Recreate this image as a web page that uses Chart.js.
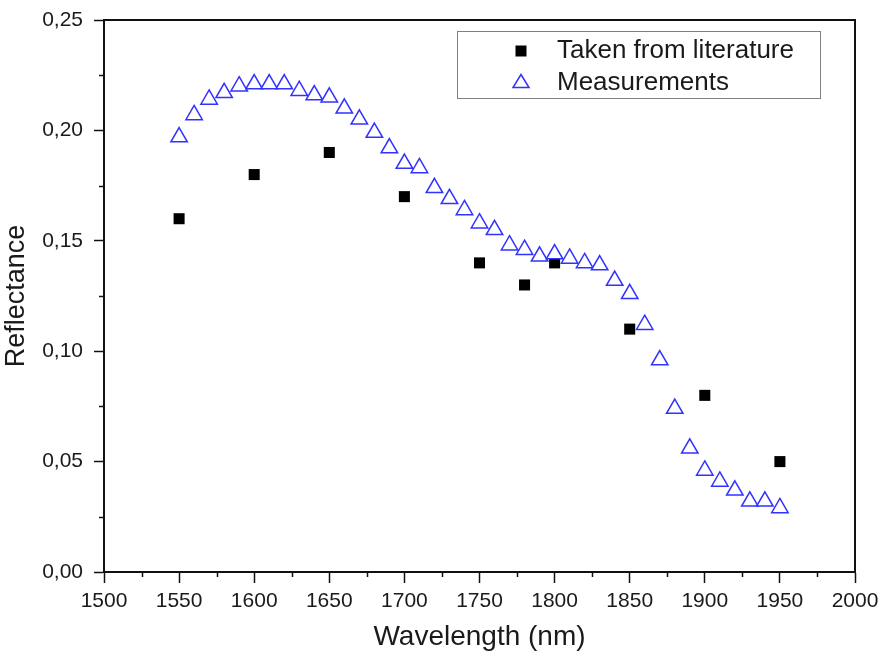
<!DOCTYPE html>
<html>
<head>
<meta charset="utf-8">
<script src="https://cdn.jsdelivr.net/npm/chart.js@4/dist/chart.umd.min.js"></script>
<style>
  html, body { margin: 0; padding: 0; background: #fff; }
  #wrap { width: 883px; height: 662px; }
</style>
</head>
<body>
<div id="wrap"><canvas id="c" width="883" height="662"></canvas></div>
<script>
// ---- data ----
const litWavelength = [1550, 1600, 1650, 1700, 1750, 1780, 1800, 1850, 1900, 1950];
const litReflectance = [0.160, 0.180, 0.190, 0.170, 0.140, 0.130, 0.140, 0.110, 0.080, 0.050];

const measWavelength = [1550, 1560, 1570, 1580, 1590, 1600, 1610, 1620, 1630, 1640,
                        1650, 1660, 1670, 1680, 1690, 1700, 1710, 1720, 1730, 1740,
                        1750, 1760, 1770, 1780, 1790, 1800, 1810, 1820, 1830, 1840,
                        1850, 1860, 1870, 1880, 1890, 1900, 1910, 1920, 1930, 1940, 1950];
const measReflectance = [0.197, 0.207, 0.214, 0.217, 0.220, 0.221, 0.221, 0.221, 0.218, 0.216,
                         0.215, 0.210, 0.205, 0.199, 0.192, 0.185, 0.183, 0.174, 0.169, 0.164,
                         0.158, 0.155, 0.148, 0.146, 0.143, 0.144, 0.142, 0.140, 0.139, 0.132,
                         0.126, 0.112, 0.096, 0.074, 0.056, 0.046, 0.041, 0.037, 0.032, 0.032, 0.029];

const seriesNames = ['Taken from literature', 'Measurements'];
const xTickLabels = ['1500', '1550', '1600', '1650', '1700', '1750', '1800', '1850', '1900', '1950', '2000'];
const yTickLabels = ['0,00', '0,05', '0,10', '0,15', '0,20', '0,25'];
const xTitle = 'Wavelength (nm)';
const yTitle = 'Reflectance';

// ---- styles ----
const FONT = '"Liberation Sans", Arial, sans-serif';
const TEXT = '#1a1a1a';
const BLUE = 'rgb(50,50,255)';

const toXY = (xs, ys) => xs.map((x, i) => ({ x: x, y: ys[i] }));

const framePlugin = {
  id: 'frame',
  afterDraw(chart) {
    const { ctx, chartArea: a, scales } = chart;
    ctx.save();
    // frame
    ctx.strokeStyle = '#111';
    ctx.lineWidth = 2;
    ctx.strokeRect(a.left, a.top, a.right - a.left, a.bottom - a.top);
    // minor ticks
    ctx.lineWidth = 1.5;
    ctx.beginPath();
    const xs = scales.x, ys = scales.y;
    for (let v = 1525; v < 2000; v += 50) {
      const px = Math.round(xs.getPixelForValue(v)) + 0.5;
      ctx.moveTo(px, a.bottom);
      ctx.lineTo(px, a.bottom + 5);
    }
    for (let k = 0; k < 5; k++) {
      const v = 0.025 + k * 0.05;
      const py = Math.round(ys.getPixelForValue(v)) + 0.5;
      ctx.moveTo(a.left, py);
      ctx.lineTo(a.left - 5, py);
    }
    ctx.stroke();

    // legend
    const bx = a.right - 398, by = a.top + 11, bw = 363, bh = 67;
    ctx.fillStyle = '#fff';
    ctx.fillRect(bx, by, bw, bh);
    ctx.strokeStyle = '#808080';
    ctx.lineWidth = 1;
    ctx.strokeRect(bx + 0.5, by + 0.5, bw, bh);
    const mx = bx + 64;
    // square
    ctx.fillStyle = '#000';
    ctx.fillRect(mx - 5.5, by + 14.5, 11, 11);
    // triangle
    ctx.strokeStyle = BLUE;
    ctx.lineWidth = 1.5;
    ctx.beginPath();
    ctx.moveTo(mx, by + 43.5);
    ctx.lineTo(mx + 8, by + 56.5);
    ctx.lineTo(mx - 8, by + 56.5);
    ctx.closePath();
    ctx.stroke();
    ctx.fillStyle = TEXT;
    ctx.font = '26px ' + FONT;
    ctx.textBaseline = 'alphabetic';
    ctx.textAlign = 'left';
    ctx.fillText(chart.data.datasets[0].label, bx + 100, by + 27);
    ctx.fillText(chart.data.datasets[1].label, bx + 100, by + 59);
    ctx.restore();
  }
};

new Chart(document.getElementById('c'), {
  type: 'scatter',
  data: {
    datasets: [
      {
        label: seriesNames[0],
        data: toXY(litWavelength, litReflectance),
        pointStyle: 'rect',
        pointRadius: 7.8,
        pointHoverRadius: 7.8,
        backgroundColor: '#000',
        borderColor: '#000',
        borderWidth: 0,
        order: 2
      },
      {
        label: seriesNames[1],
        data: toXY(measWavelength, measReflectance),
        pointStyle: 'triangle',
        pointRadius: 9.5,
        pointHoverRadius: 9.5,
        backgroundColor: '#fff',
        borderColor: BLUE,
        borderWidth: 1.5,
        order: 1
      }
    ]
  },
  options: {
    responsive: false,
    devicePixelRatio: 1,
    animation: false,
    events: [],
    layout: { padding: { top: 20, right: 28, left: 0, bottom: 0 } },
    plugins: {
      legend: { display: false },
      tooltip: { enabled: false }
    },
    scales: {
      x: {
        type: 'linear',
        min: 1500,
        max: 2000,
        afterFit(scale) {
          scale.height = 90;
          scale.paddingLeft = 0; scale.paddingRight = 0;
        },
        ticks: {
          stepSize: 50,
          padding: 6,
          color: TEXT,
          font: { family: FONT, size: 21 },
          maxRotation: 0,
          autoSkip: false,
          callback: (v, i) => xTickLabels[i]
        },
        grid: { display: true, drawOnChartArea: false, drawTicks: true, tickLength: 11, tickWidth: 1.5, tickColor: '#111' },
        border: { display: true, color: '#111', width: 2 },
        title: { display: true, text: xTitle, color: TEXT, font: { family: FONT, size: 28 }, padding: { top: 0, bottom: 8 } }
      },
      y: {
        type: 'linear',
        min: 0,
        max: 0.25,
        afterFit(scale) {
          scale.width = 104;
          scale.paddingTop = 0; scale.paddingBottom = 0;
        },
        ticks: {
          stepSize: 0.05,
          padding: 11,
          color: TEXT,
          font: { family: FONT, size: 21 },
          autoSkip: false,
          callback: (v, i) => yTickLabels[i]
        },
        grid: { display: true, drawOnChartArea: false, drawTicks: true, tickLength: 10, tickWidth: 1.5, tickColor: '#111' },
        border: { display: true, color: '#111', width: 2 },
        title: { display: true, text: yTitle, color: TEXT, font: { family: FONT, size: 27 }, padding: { top: 0, bottom: 0 } }
      }
    }
  },
  plugins: [framePlugin]
});
</script>
</body>
</html>
